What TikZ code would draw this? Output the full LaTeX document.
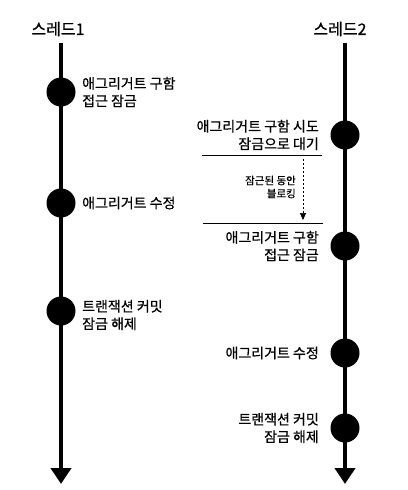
\documentclass[tikz,border=0pt]{standalone}
\usepackage{fontspec}
\setmainfont{Noto Sans CJK KR}[FakeBold=0.6]
\usetikzlibrary{arrows.meta}
\begin{document}
\begin{tikzpicture}[x=1pt,y=-1pt,
  lifeline/.style={line width=4pt,-{Triangle[width=20pt,length=16pt]}},
  event/.style={circle,fill=black,minimum size=29pt,inner sep=0pt},
  title/.style={font=\fontsize{16}{19}\selectfont,inner sep=0pt},
  lbl/.style={font=\fontsize{14}{17.5}\selectfont,inner sep=0pt},
  small/.style={font=\fontsize{10.5}{13}\selectfont,inner sep=0pt},
  sep/.style={line width=0.8pt},
  wait/.style={line width=0.6pt,dash pattern=on 2pt off 2pt,-{Triangle[width=6pt,length=7pt]}}]
\useasboundingbox (0,0) rectangle (407,490);
% titles
\node[title] (t1) at (58,29) {스레드1};
\node[title] (t2) at (340,29) {스레드2};
% lifelines
\coordinate (l1s) at (61,43);
\coordinate (l1e) at (61,484);
\coordinate (l2s) at (345,43);
\coordinate (l2e) at (345,484);
\draw[lifeline] (l1s) -- (l1e);
\draw[lifeline] (l2s) -- (l2e);
% thread 1 events
\node[event] (a1) at (61,92) {};
\node[event] (a2) at (61,203) {};
\node[event] (a3) at (61,311) {};
\node[lbl,anchor=west,align=left] (la1) at (82,92) {애그리거트 구함\\접근 잠금};
\node[lbl,anchor=west,align=left] (la2) at (82,203) {애그리거트 수정};
\node[lbl,anchor=west,align=left] (la3) at (82,315) {트랜잭션 커밋\\잠금 해제};
% thread 2 events
\node[event] (b1) at (345,135) {};
\node[event] (b2) at (345,246) {};
\node[event] (b3) at (345,353) {};
\node[event] (b4) at (345,428) {};
\node[lbl,anchor=east,align=right] (lb1) at (319,135) {애그리거트 구함 시도\\잠금으로 대기};
\node[lbl,anchor=east,align=right] (lb2) at (319,246) {애그리거트 구함\\접근 잠금};
\node[lbl,anchor=east,align=right] (lb3) at (319,353) {애그리거트 수정};
\node[lbl,anchor=east,align=right] (lb4) at (319,428) {트랜잭션 커밋\\잠금 해제};
% separators and waiting
\coordinate (s1a) at (202,155);
\coordinate (s1b) at (322,155);
\coordinate (s2a) at (203,223);
\coordinate (s2b) at (323,223);
\draw[sep] (s1a) -- (s1b);
\draw[sep] (s2a) -- (s2b);
\coordinate (w1) at (303,159);
\coordinate (w2) at (303,220);
\draw[wait] (w1) -- (w2);
\node[small,anchor=east,align=right] (wl) at (296,187) {잠근된 동안\\블로킹};
\end{tikzpicture}
\end{document}
